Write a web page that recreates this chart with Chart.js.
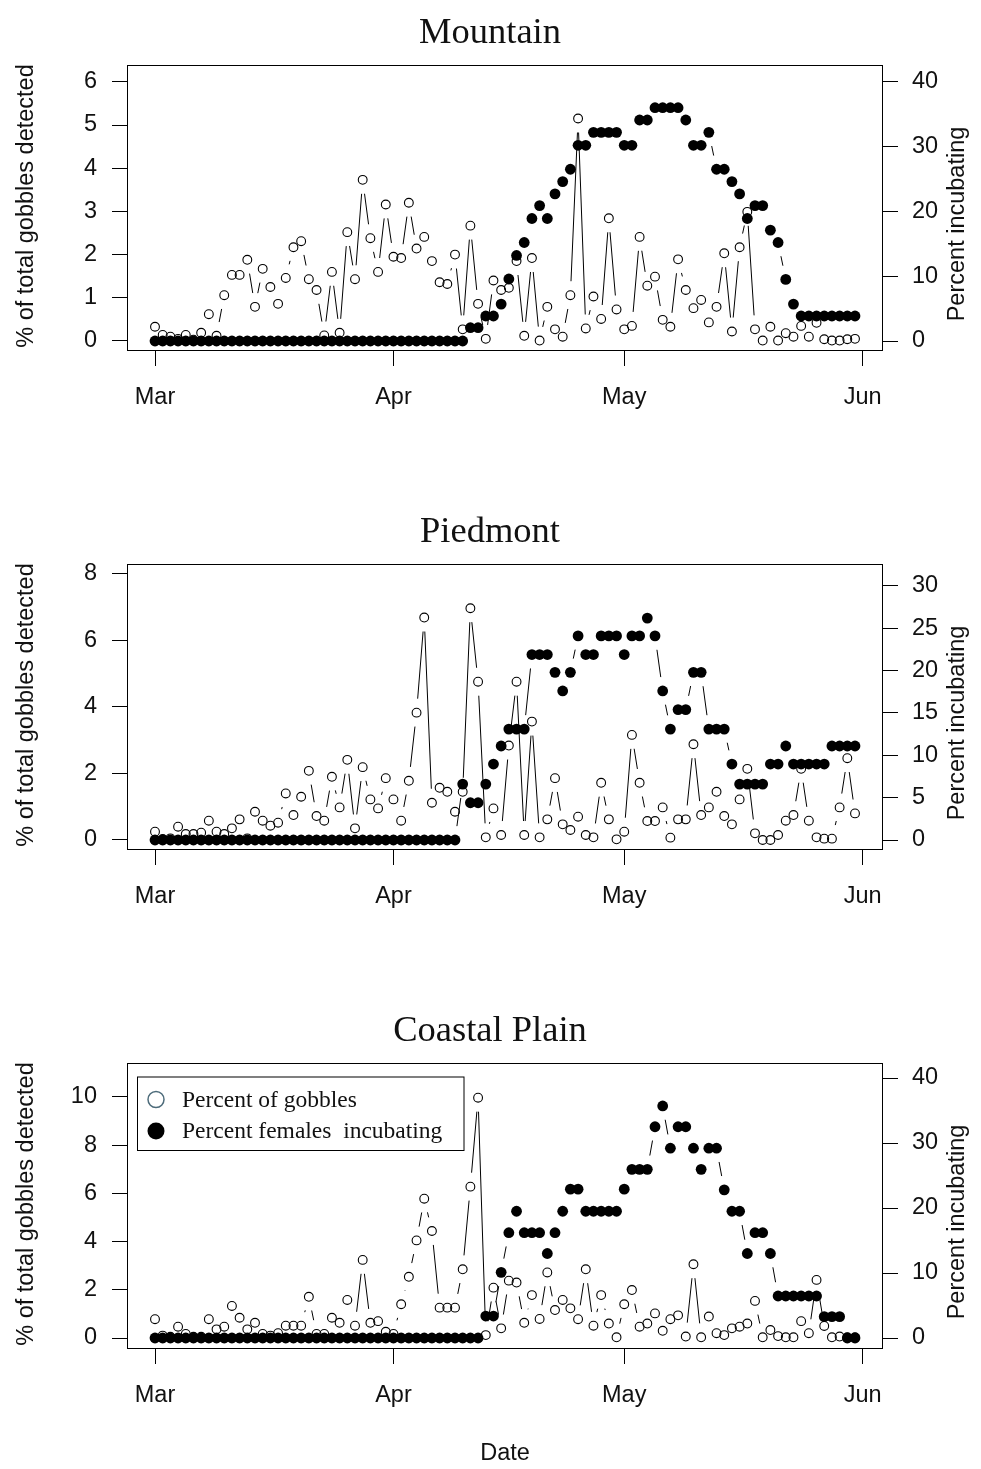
<!DOCTYPE html>
<html><head><meta charset="utf-8">
<script src="https://cdn.jsdelivr.net/npm/chart.js@4.4.1/dist/chart.umd.min.js"></script>
<style>
html,body{margin:0;padding:0;background:#fff;}
body{width:981px;height:1469px;position:relative;overflow:hidden;}
canvas{position:absolute;left:0;}
</style></head><body>
<canvas id="c1" width="981" height="470" style="top:0px"></canvas>
<canvas id="c2" width="981" height="480" style="top:490px"></canvas>
<canvas id="c3" width="981" height="479" style="top:990px"></canvas>
<script>
// Day of season (0 = Mar 1 ... 91 = May 31)
const dayOfSeason = [0,1,2,3,4,5,6,7,8,9,10,11,12,13,14,15,16,17,18,19,20,21,22,23,24,25,26,27,28,29,30,
  31,32,33,34,35,36,37,38,39,40,41,42,43,44,45,46,47,48,49,50,51,52,53,54,55,56,57,58,59,60,
  61,62,63,64,65,66,67,68,69,70,71,72,73,74,75,76,77,78,79,80,81,82,83,84,85,86,87,88,89,90,91];
const monthTicks = [0,31,61,92];
const monthLabels = ['Mar','Apr','May','Jun'];

const panelTitles = ['Mountain','Piedmont','Coastal Plain'];
const leftTitle = '% of total gobbles detected';
const rightTitle = 'Percent incubating';
const xTitle = 'Date';
const legendLabels = ['Percent of gobbles','Percent females  incubating'];

const mountainLeftTicks = [0,1,2,3,4,5,6];
const mountainRightTicks = [0,10,20,30,40];
const piedmontLeftTicks = [0,2,4,6,8];
const piedmontRightTicks = [0,5,10,15,20,25,30];
const coastalLeftTicks = [0,2,4,6,8,10];
const coastalRightTicks = [0,10,20,30,40];

const mountainGobbles = [0.33,0.14,0.10,0.05,0.14,0.03,0.19,0.62,0.12,1.06,1.53,1.53,1.88,0.79,1.67,1.25,0.86,1.46,2.17,2.31,1.43,1.18,0.13,1.60,0.19,2.52,1.43,3.73,2.38,1.60,3.16,
  1.95,1.92,3.20,2.14,2.41,1.85,1.36,1.32,2.00,0.27,2.67,0.86,0.05,1.40,1.18,1.23,1.85,0.12,1.92,0.01,0.79,0.27,0.10,1.06,5.15,0.29,1.03,0.51,2.84,0.73,
  0.27,0.35,2.41,1.28,1.49,0.49,0.33,1.89,1.18,0.76,0.95,0.43,0.79,2.03,0.22,2.17,2.99,0.27,0.01,0.33,0.01,0.18,0.10,0.35,0.10,0.42,0.04,0.01,0.01,0.04,0.05];
const mountainIncubating = [0,0,0,0,0,0,0,0,0,0,0,0,0,0,0,0,0,0,0,0,0,0,0,0,0,0,0,0,0,0,0,
  0,0,0,0,0,0,0,0,0,0,2.05,2.05,3.86,3.86,5.7,9.57,13.2,15.2,18.9,20.9,18.9,22.7,24.6,26.5,30.2,30.2,32.2,32.2,32.2,32.2,
  30.2,30.2,34.1,34.1,36.0,36.0,36.0,36.0,34.1,30.2,30.2,32.2,26.5,26.5,24.6,22.7,18.9,20.9,20.9,17.1,15.2,9.5,5.7,3.86,3.86,3.86,3.86,3.86,3.86,3.86,3.86];

const piedmontGobbles = [0.25,0.03,0.05,0.40,0.18,0.18,0.22,0.58,0.25,0.18,0.35,0.62,0.05,0.85,0.58,0.43,0.52,1.40,0.75,1.30,2.08,0.72,0.58,1.90,0.98,2.41,0.35,2.19,1.22,0.95,1.86,
  1.22,0.58,1.78,3.83,6.69,1.12,1.57,1.45,0.85,1.45,6.97,4.76,0.08,0.95,0.15,2.84,4.76,0.15,3.56,0.08,0.62,1.86,0.47,0.30,0.70,0.15,0.08,1.72,0.62,0.02,
  0.25,3.16,1.72,0.57,0.57,0.98,0.07,0.62,0.62,2.88,0.75,0.98,1.45,0.72,0.47,1.22,2.14,0.20,0.00,0.00,0.15,0.58,0.75,2.14,0.58,0.08,0.04,0.04,0.98,2.46,0.80];
const piedmontIncubating = [0,0,0,0,0,0,0,0,0,0,0,0,0,0,0,0,0,0,0,0,0,0,0,0,0,0,0,0,0,0,0,
  0,0,0,0,0,0,0,0,0,6.6,4.4,4.4,6.6,8.97,11.1,13.1,13.1,13.1,21.9,21.9,21.9,19.8,17.6,19.8,24.1,21.9,21.9,24.1,24.1,24.1,
  21.9,24.1,24.1,26.2,24.1,17.6,13.1,15.4,15.4,19.8,19.8,13.1,13.1,13.1,8.97,6.6,6.6,6.6,6.6,8.97,8.97,11.1,8.97,8.97,8.97,8.97,8.97,11.1,11.1,11.1,11.1];

const coastalGobbles = [0.78,0.10,0.05,0.47,0.17,0.05,0.05,0.78,0.36,0.47,1.33,0.84,0.36,0.63,0.17,0.10,0.20,0.51,0.51,0.51,1.71,0.17,0.17,0.84,0.63,1.58,0.51,3.24,0.63,0.70,0.26,
  0.17,1.40,2.54,4.05,5.78,4.44,1.26,1.26,1.26,2.85,6.28,9.97,0.12,2.09,0.40,2.38,2.30,0.63,1.78,0.79,2.72,1.16,1.58,1.23,0.78,2.85,0.51,1.78,0.60,0.03,
  1.40,1.99,0.47,0.60,1.02,0.30,0.78,0.94,0.06,3.06,0.03,0.89,0.20,0.12,0.40,0.47,0.60,1.54,0.03,0.33,0.08,0.03,0.03,0.70,0.20,2.41,0.50,0.03,0.06,0.03,0.03];
const coastalIncubating = [0,0,0,0,0,0,0,0,0,0,0,0,0,0,0,0,0,0,0,0,0,0,0,0,0,0,0,0,0,0,0,
  0,0,0,0,0,0,0,0,0,0,0,0,3.38,3.38,10.1,16.2,19.5,16.2,16.2,16.2,13.0,16.2,19.5,22.9,22.9,19.5,19.5,19.5,19.5,19.5,
  22.9,25.95,25.95,25.95,32.5,35.7,29.2,32.5,32.5,29.2,25.95,29.2,29.2,22.8,19.5,19.5,13.0,16.2,16.2,13.0,6.46,6.46,6.46,6.46,6.46,6.46,3.28,3.28,3.28,0,0];

const SANS = '"Liberation Sans", Arial, sans-serif';
const SERIF = '"Liberation Serif", "Times New Roman", serif';
const TXT = '#111';

const decor = {
  id: 'decor',
  beforeDatasetsDraw(chart) {
    const ctx = chart.ctx, gap = 14;
    ctx.save();
    ctx.strokeStyle = '#000'; ctx.lineWidth = 1;
    ctx.beginPath();
    chart.data.datasets.forEach((ds, di) => {
      const pts = chart.getDatasetMeta(di).data;
      for (let i = 0; i < pts.length - 1; i++) {
        const a = pts[i], b = pts[i + 1];
        const dx = b.x - a.x, dy = b.y - a.y, L = Math.hypot(dx, dy);
        if (L > 2 * gap) {
          const f = gap / L;
          ctx.moveTo(a.x + f * dx, a.y + f * dy);
          ctx.lineTo(b.x - f * dx, b.y - f * dy);
        }
      }
    });
    ctx.stroke();
    ctx.restore();
  },
  afterDraw(chart, args, opts) {
    const ctx = chart.ctx, ca = chart.chartArea;
    ctx.save();
    ctx.strokeStyle = '#000'; ctx.lineWidth = 1;
    ctx.strokeRect(ca.left + 0.5, ca.top + 0.5, ca.right - ca.left - 1, ca.bottom - ca.top - 1);
    ctx.fillStyle = TXT;
    ctx.font = '36.5px ' + SERIF;
    ctx.textAlign = 'center'; ctx.textBaseline = 'alphabetic';
    ctx.fillText(opts.title, 490, ca.top - 22);
    ctx.font = '23.5px ' + SANS;
    const cy = (ca.top + ca.bottom) / 2;
    ctx.save(); ctx.translate(33, cy - 2); ctx.rotate(-Math.PI / 2); ctx.fillText(leftTitle, 0, 0); ctx.restore();
    ctx.save(); ctx.translate(964, cy + 16); ctx.rotate(-Math.PI / 2); ctx.fillText(rightTitle, 0, 0); ctx.restore();
    if (opts.showX) ctx.fillText(xTitle, 505, ca.bottom + 111);
    if (opts.legend) {
      const top = ca.top + 14, x0 = 137.5;
      ctx.fillStyle = '#fff';
      ctx.fillRect(x0, top, 464 - x0, 73.5);
      ctx.strokeStyle = '#000'; ctx.lineWidth = 1;
      ctx.strokeRect(x0, top, 464 - x0, 73.5);
      ctx.beginPath(); ctx.arc(156, top + 22.5, 8, 0, Math.PI * 2);
      ctx.strokeStyle = '#4d6b7a'; ctx.lineWidth = 1.5; ctx.stroke();
      ctx.beginPath(); ctx.arc(156, top + 54, 8.5, 0, Math.PI * 2);
      ctx.fillStyle = '#000'; ctx.fill();
      ctx.fillStyle = TXT;
      ctx.font = '23.5px ' + SERIF; ctx.textAlign = 'left';
      ctx.fillText(legendLabels[0], 182, top + 30);
      ctx.fillText(legendLabels[1], 182, top + 60.5);
    }
    ctx.restore();
  }
};

function makeChart(id, cfg) {
  const font = {family: SANS, size: 23.5};
  const gridOpt = {drawOnChartArea: false, drawTicks: true, tickLength: 15, color: '#000', lineWidth: 1};
  return new Chart(document.getElementById(id), {
    type: 'line',
    data: {
      datasets: [
        {label: legendLabels[1], data: dayOfSeason.map((d, i) => ({x: d, y: cfg.incub[i]})), yAxisID: 'y2',
         showLine: false, pointRadius: 5.4, pointBackgroundColor: '#000', pointBorderColor: '#000', pointBorderWidth: 0, order: 0},
        {label: legendLabels[0], data: dayOfSeason.map((d, i) => ({x: d, y: cfg.gob[i]})), yAxisID: 'y',
         showLine: false, pointRadius: 4.4, pointBackgroundColor: 'rgba(0,0,0,0)', pointBorderColor: '#000', pointBorderWidth: 1.1, order: 1}
      ]
    },
    options: {
      responsive: false, animation: false, devicePixelRatio: 1, events: [],
      layout: {padding: {top: cfg.top, left: 0, right: 0, bottom: 0}},
      plugins: {legend: {display: false}, tooltip: {enabled: false},
        decor: {title: cfg.title, legend: cfg.legend, showX: cfg.showX}},
      scales: {
        x: {type: 'linear', min: -3.64, max: 94.64,
          afterBuildTicks: s => { s.ticks = monthTicks.map(v => ({value: v})); },
          afterFit: s => { s.height = cfg.xh; },
          ticks: {callback: v => monthLabels[monthTicks.indexOf(v)], font, color: TXT, padding: 17, maxRotation: 0, minRotation: 0, autoSkip: false},
          grid: gridOpt, border: {display: false}},
        y: {type: 'linear', position: 'left', min: cfg.lmin, max: cfg.lmax,
          afterBuildTicks: s => { s.ticks = cfg.lticks.map(v => ({value: v})); },
          afterFit: s => { s.width = 127; },
          ticks: {callback: v => String(v), font, color: TXT, padding: 15},
          grid: gridOpt, border: {display: false}},
        y2: {type: 'linear', position: 'right', min: cfg.rmin, max: cfg.rmax,
          afterBuildTicks: s => { s.ticks = cfg.rticks.map(v => ({value: v})); },
          afterFit: s => { s.width = 98; },
          ticks: {callback: v => String(v), font, color: TXT, padding: 14},
          grid: gridOpt, border: {display: false}}
      }
    },
    plugins: [decor]
  });
}

makeChart('c1', {title: panelTitles[0], gob: mountainGobbles, incub: mountainIncubating, top: 65, xh: 119,
  lmin: -0.2315, lmax: 6.389, rmin: -1.543, rmax: 42.59, lticks: mountainLeftTicks, rticks: mountainRightTicks, legend: false, showX: false});
makeChart('c2', {title: panelTitles[1], gob: piedmontGobbles, incub: piedmontIncubating, top: 74, xh: 120,
  lmin: -0.301, lmax: 8.30, rmin: -1.18, rmax: 32.59, lticks: piedmontLeftTicks, rticks: piedmontRightTicks, legend: false, showX: false});
makeChart('c3', {title: panelTitles[2], gob: coastalGobbles, incub: coastalIncubating, top: 73, xh: 120,
  lmin: -0.456, lmax: 11.41, rmin: -1.692, rmax: 42.31, lticks: coastalLeftTicks, rticks: coastalRightTicks, legend: true, showX: true});
</script>
</body></html>
